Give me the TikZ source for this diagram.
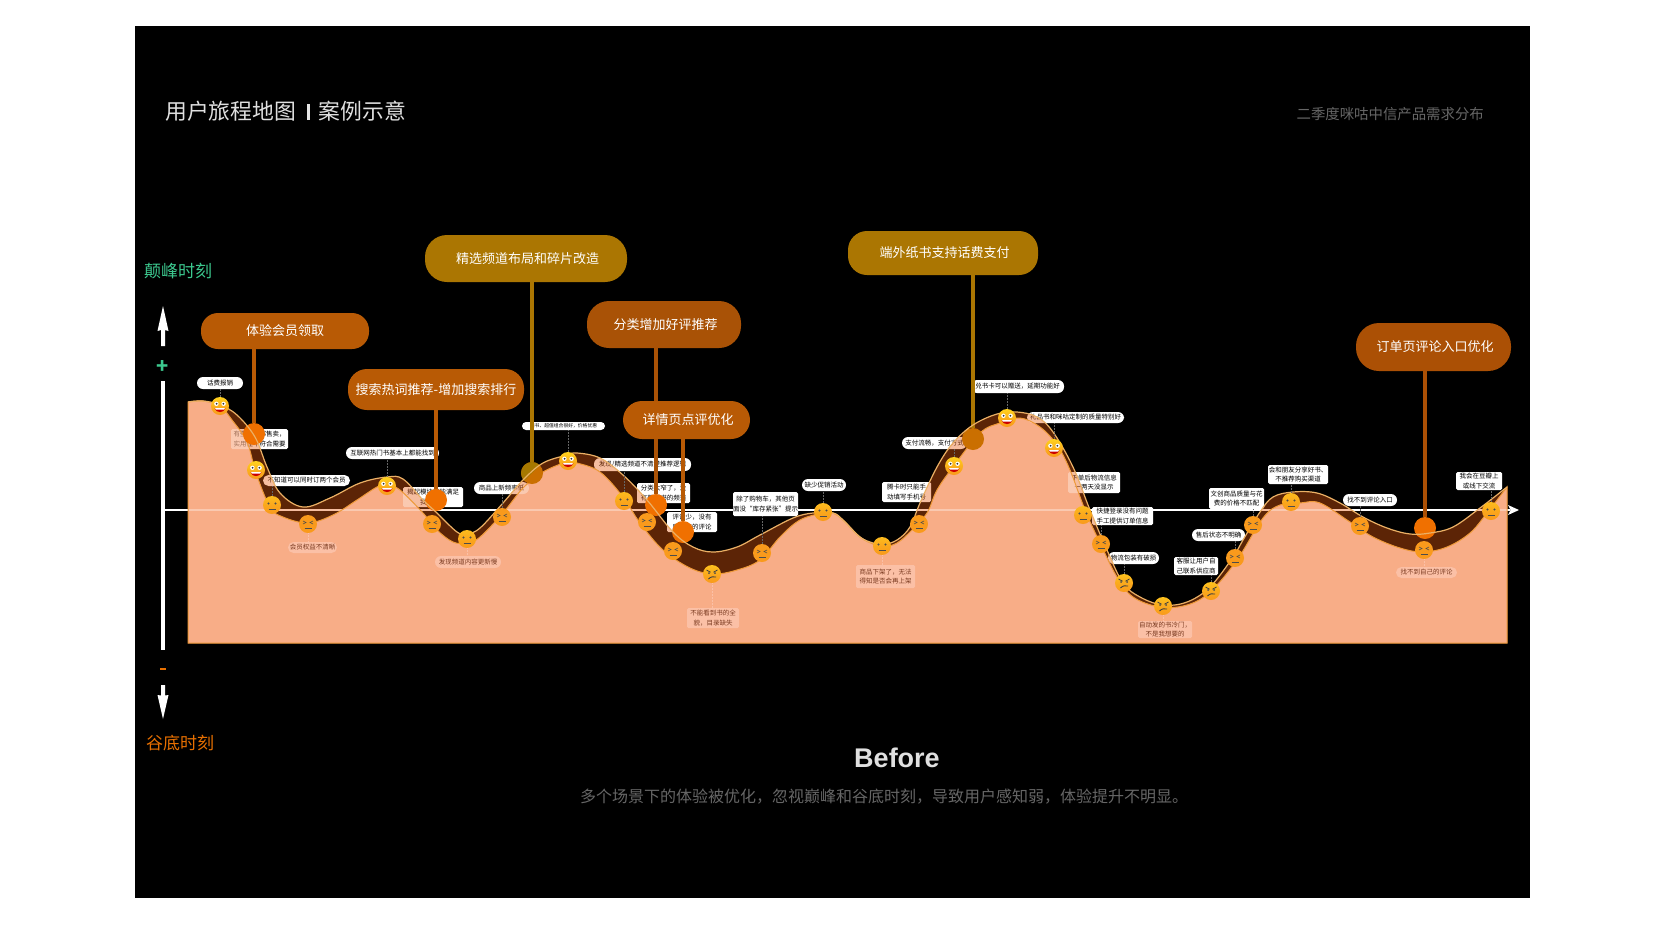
\documentclass[tikz,border=0pt]{standalone}
\usepackage{fontspec}
\setmainfont{Noto Sans CJK SC}
\newfontfamily\latinbold{Liberation Sans}[BoldFont={Liberation Sans Bold}]
\usetikzlibrary{calc}
\definecolor{peach}{HTML}{F8AD87}
\definecolor{brownov}{HTML}{E65A0F}
\definecolor{pillo}{HTML}{B85A05}
\definecolor{pillp}{HTML}{A95206}
\definecolor{pillq}{HTML}{AB5005}
\definecolor{pilly}{HTML}{AB7602}
\definecolor{dot}{HTML}{F07000}
\definecolor{doty}{HTML}{CA6F00}
\definecolor{dotolive}{HTML}{A67800}
\definecolor{facey}{HTML}{FFD21E}
\definecolor{faceo}{HTML}{F99A1C}
\definecolor{grn}{HTML}{3CC88E}
\definecolor{org}{HTML}{E87000}
\definecolor{upline}{HTML}{EBB065}
\definecolor{lowline}{HTML}{EE9A3A}
\definecolor{paletag}{HTML}{FBC0A6}
\definecolor{paletext}{HTML}{7A3A20}
\def\upperpts{(188,402)(203,401)(220,405)(237,415)(255,437)(267,467)(280,493)(303,507)(330,498)(360,483)(387,477)(403,479)(423,500)(437,513)(457,532)(467,534)(480,528)(503,503)(523,480)(543,463)(567,455)(577,453)(600,458)(623,475)(647,500)(673,532)(693,547)(713,552)(737,547)(760,535)(793,518)(813,513)(833,513)(843,520)(860,537)(873,543)(882,545)(897,540)(910,527)(920,503)(937,467)(953,443)(973,425)(997,414)(1017,412)(1037,417)(1053,432)(1073,467)(1090,510)(1107,550)(1123,583)(1140,597)(1163,605)(1187,602)(1210,587)(1233,557)(1243,540)(1260,512)(1273,497)(1293,492)(1317,493)(1340,503)(1363,517)(1387,528)(1410,534)(1430,533)(1453,527)(1480,508)(1507,487)}
\def\lowerpts{(188,402)(203,401)(220,406)(232,420)(247,442)(256,473)(270,507)(283,517)(308,523)(333,515)(357,500)(377,487)(387,485)(400,490)(423,513)(437,530)(453,542)(467,543)(480,537)(503,513)(523,488)(543,472)(567,462)(577,463)(600,472)(623,497)(640,523)(663,550)(690,568)(713,574)(737,570)(760,560)(780,537)(800,520)(823,513)(833,513)(843,520)(860,537)(873,544)(882,547)(897,543)(912,530)(927,513)(937,490)(953,467)(980,433)(1000,423)(1020,418)(1040,427)(1057,445)(1070,470)(1085,510)(1100,543)(1117,577)(1133,597)(1160,607)(1187,605)(1210,592)(1237,560)(1263,518)(1280,505)(1300,503)(1320,503)(1350,522)(1373,537)(1400,548)(1423,552)(1447,547)(1470,533)(1487,513)(1507,487)}
\tikzset{
  pillbox/.style={rounded corners=#1,inner sep=0pt,text=white,font=\fontsize{13}{15}\selectfont,anchor=center},
  tag/.style={fill=white,text=black,inner sep=0pt,font=\fontsize{6.5}{9.5}\selectfont,align=center,anchor=center},
  paletagbox/.style={tag,fill=paletag,text=paletext},
  lead/.style={densely dotted,line width=.5pt,draw=white!40!black},
  leadpale/.style={densely dotted,line width=.5pt,draw=paletag},
  dotc/.style={circle,inner sep=0pt,minimum size=22pt},
  conn/.style={line width=3.1pt},
  faceb/.style={circle,inner sep=0pt,minimum size=18pt},
  head/.style={fill=white,draw=none}
}
\newcommand\tagbox[7]{\node[tag,rounded corners=#6,minimum width=#4pt-#2pt,minimum height=#5pt-#3pt] (#1) at ({(#2+#4)/2},{(#3+#5)/2}) {#7};}
\newcommand\paletagb[7]{\node[paletagbox,rounded corners=#6,minimum width=#4pt-#2pt,minimum height=#5pt-#3pt] (#1) at ({(#2+#4)/2},{(#3+#5)/2}) {#7};}
\newcommand\ptxt[1]{\raisebox{-1pt}{\hspace*{3pt}#1}}
% faces
\newcommand\facebase[4]{%
  \node[faceb,top color=#4,bottom color=faceo,middle color=faceo!60!#4] (#1) at (#2,#3) {};}
\newcommand\eyesround[2]{%
  \fill[white] (#1-3.6,#2-2.2) circle (2.2) (#1+3.6,#2-2.2) circle (2.2);
  \fill[black!80] (#1-3.4,#2-2.2) circle (1) (#1+3.4,#2-2.2) circle (1);}
\newcommand\mouthopen[2]{%
  \fill[red!80!black] (#1-5.5,#2+2) .. controls (#1-4,#2+7.5) and (#1+4,#2+7.5) .. (#1+5.5,#2+2) -- cycle;
  \fill[white] (#1-5,#2+2) -- (#1+5,#2+2) -- (#1+4,#2+3.6) -- (#1-4,#2+3.6) -- cycle;}
\newcommand\fhappy[3]{\facebase{#1}{#2}{#3}{facey}\eyesround{#2}{#3}\mouthopen{#2}{#3}}
\newcommand\fneutral[3]{\facebase{#1}{#2}{#3}{facey!60!faceo}%
  \fill[black!70] (#2-3.5,#3-1.5) circle (1.1) (#2+3.5,#3-1.5) circle (1.1);
  \draw[black!70,line width=.8pt] (#2-3.5,#3+4) -- (#2+3.5,#3+4);}
\newcommand\fsquint[3]{\facebase{#1}{#2}{#3}{faceo}%
  \draw[black!70,line width=.6pt] (#2-5,#3-3) -- (#2-2,#3-1.5) -- (#2-5,#3) (#2+5,#3-3) -- (#2+2,#3-1.5) -- (#2+5,#3);
  \draw[black!70,line width=.8pt] (#2-3.5,#3+4) -- (#2+3.5,#3+4);}
\newcommand\fangry[3]{\facebase{#1}{#2}{#3}{facey!70!faceo}%
  \draw[black!75,line width=.8pt] (#2-5.5,#3-4) -- (#2-1.5,#3-1.8) (#2+5.5,#3-4) -- (#2+1.5,#3-1.8);
  \fill[black!70] (#2-3,#3-1) circle (1) (#2+3,#3-1) circle (1);
  \draw[black!75,line width=.9pt] (#2-3.5,#3+5) .. controls (#2-1,#3+2.5) and (#2+1,#3+2.5) .. (#2+4,#3+3);}
\begin{document}
\begin{tikzpicture}[x=1pt,y=-1pt]
\useasboundingbox (0,0) rectangle (1668,946);
\fill[white] (0,0) rectangle (1668,946);
\fill[black] (135,26) rectangle (1530,897.5);
\edef\cmd{\noexpand\path[save path=\noexpand\lowerP] (188,643) -- plot[smooth,tension=.6] coordinates {\lowerpts} -- (1507,643) -- cycle;}\cmd
\edef\cmd{\noexpand\path[save path=\noexpand\bandP] plot[smooth,tension=.6] coordinates {\upperpts} -- (1507,643) -- (188,643) -- cycle (188,643) -- plot[smooth,tension=.6] coordinates {\lowerpts} -- (1507,643) -- cycle;}\cmd
\edef\cmd{\noexpand\path[save path=\noexpand\upperL] plot[smooth,tension=.6] coordinates {\upperpts};}\cmd
% base area
\fill[peach,use path=\lowerP];
% titles
\node[text=white!88!black,font=\fontsize{21.8}{24}\selectfont,anchor=west,inner sep=0pt] (t1) at (165,111) {用户旅程地图};
\fill[white!90!black] (306.5,104) rectangle (309.5,120);
\node[text=white!88!black,font=\fontsize{21.8}{24}\selectfont,anchor=west,inner sep=0pt] (t2) at (318.5,111) {案例示意};
\node[text=black!60!white,font=\fontsize{14.4}{18}\selectfont,anchor=east,inner sep=0pt] (t3) at (1484,114) {二季度咪咕中信产品需求分布};
\node[text=grn,font=\fontsize{17}{20}\selectfont,anchor=west,inner sep=0pt] (t4) at (144,271) {颠峰时刻};
\node[text=org,font=\fontsize{17}{20}\selectfont,anchor=west,inner sep=0pt] (t5) at (146,743) {谷底时刻};
\node[text=white!88!black,font=\latinbold\bfseries\fontsize{27}{30}\selectfont,inner sep=0pt] (t6) at (897,758) {Before};
\node[text=black!60!white,font=\fontsize{16}{18}\selectfont,inner sep=0pt] (t7) at (884,797) {多个场景下的体验被优化，忽视巅峰和谷底时刻，导致用户感知弱，体验提升不明显。};
% vertical axis
\node[text=grn,font=\bfseries\fontsize{20}{20}\selectfont,inner sep=0pt] (plus) at (163,367) {+};
\fill[org] (160,667.5) rectangle (166,670);
\fill[head] (163,306) -- (168.5,331) -- (165,330) -- (165,346) -- (161,346) -- (161,330) -- (157.5,331) -- cycle;
\fill[white] (161,381) rectangle (165,650);
\fill[head] (163,719) -- (168.5,695) -- (165,695.5) -- (165,685) -- (161,685) -- (161,695.5) -- (157.5,695) -- cycle;
% horizontal axis
\coordinate (hs) at (165,510);
\coordinate (he) at (1510,510);
\draw[draw=white,line width=2.6pt] (hs) -- (he);
\fill[head] (1519,510) -- (1508,505) -- (1510.5,510) -- (1508,515) -- cycle;
% labels straddling the curve, tinted by the overlays below
\tagbox{l1}{197}{377}{243}{389}{6}{话费报销}
\tagbox{l2}{231}{429}{288}{449}{1.5}{有些书不都售卖，\\实用性不符合需要}
\tagbox{l3}{263}{475}{350}{486}{5.5}{不知道可以同时订两个会员}
\tagbox{l5}{346}{447}{439}{459}{6}{互联网热门书基本上都能找到}
\tagbox{l6}{403}{487}{463}{507}{1.5}{揭起模块不能满足\\我的需求}
\tagbox{l8}{474}{482}{529}{494}{6}{商品上新频率低}
\node[tag,rounded corners=4,minimum width=83pt,minimum height=8pt,font=\fontsize{4.8}{6}\selectfont] (l9) at (563.5,426) {图书、超值组合很好，价格优惠};
\tagbox{l10}{594}{458}{691}{471}{6}{发现/精选频道不清楚推荐逻辑}
\tagbox{l11}{637}{483}{690}{503}{1.5}{分类太窄了，没\\有想要书的频道}
\tagbox{l12}{667}{512}{717}{532}{1.5}{评论少，没有\\质量高的评论}
\tagbox{l14}{737}{492}{794}{516}{1.5}{除了购物车，其他页\\面没“库存紧张”提示}
\tagbox{l15}{802}{479}{846}{491}{6}{缺少促销活动}
\tagbox{l17}{882}{482}{931}{502}{1.5}{腾卡时只能手\\动填写手机号}
\tagbox{l18}{902}{437}{967}{449}{6}{支付流畅，支付方式}
\tagbox{l19}{971}{380}{1064}{393}{6}{兑书卡可以赠送，延期功能好}
\tagbox{l20}{1027}{412}{1124}{423}{6}{礼品书和咪咕定制的质量特别好}
\tagbox{l21}{1068}{472}{1120}{493}{1.5}{下单后物流信息\\一两天没显示}
\tagbox{l22}{1092}{507}{1153}{525}{1.5}{快捷登录没有问题\\手工提供订单信息}
\tagbox{l23}{1108}{552}{1159}{564}{6}{物流包装有破损}
\tagbox{l25}{1174}{557}{1218}{575}{1.5}{客服让用户自\\己联系供应商}
\tagbox{l26}{1192}{529}{1245}{541}{6}{售后状态不明确}
\tagbox{l27}{1209}{488}{1264}{509}{1.5}{文创商品质量与花\\费的价格不匹配}
\tagbox{l28}{1268}{465}{1328}{484}{1.5}{会和朋友分享好书、\\不推荐购买渠道}
\tagbox{l29}{1343}{494}{1397}{506}{6}{找不到评论入口}
\tagbox{l31}{1456}{472}{1502}{490}{1.5}{我会在豆瓣上\\或线下交流}
% overlays tint what lies under the curve
\fill[peach,opacity=.65,use path=\lowerP];
\fill[brownov,opacity=.4,even odd rule,use path=\bandP];
\draw[draw=lowline,line width=1pt,use path=\lowerP];
% labels wholly on the area
\paletagb{l4}{288}{542}{337}{553}{5.5}{会员权益不清晰}
\paletagb{l7}{435}{556}{501}{568}{6}{发现频道内容更新慢}
\paletagb{l13}{687}{608}{739}{628}{1.5}{不能看到书的全\\貌，目录缺失}
\paletagb{l16}{856}{565}{915}{588}{1.5}{商品下架了，无法\\得知是否会再上架}
\paletagb{l24}{1138}{621}{1192}{638}{1.5}{自动发的书冷门，\\不是我想要的}
\paletagb{l30}{1396}{567}{1457}{578}{5.5}{找不到自己的评论}
% pills
\node[pillbox=17,fill=pillo,minimum width=168pt,minimum height=36pt] (p1) at (285,331) {\raisebox{-1pt}{体验会员领取}};
\node[pillbox=22,fill=pilly,minimum width=202pt,minimum height=47pt] (p2) at (526,258.5) {\ptxt{精选频道布局和碎片改造}};
\node[pillbox=19,fill=pillo,minimum width=176pt,minimum height=41pt] (p3) at (436,389.5) {\raisebox{-1pt}{搜索热词推荐-增加搜索排行}};
\node[pillbox=22,fill=pillp,minimum width=154pt,minimum height=47pt] (p4) at (664,324.5) {\ptxt{分类增加好评推荐}};
\node[pillbox=19,fill=pilly,minimum width=190pt,minimum height=44pt] (p6) at (943,253) {\ptxt{端外纸书支持话费支付}};
\node[pillbox=23,fill=pillq,minimum width=155pt,minimum height=48pt] (p7) at (1433.5,347) {\ptxt{订单页评论入口优化}};
% dots
\node[dotc,fill=dot] (d1) at (254,434) {};
\node[dotc,fill=dot] (d2) at (436,500) {};
\node[dotc,fill=doty] (d3) at (532,473) {};
\begin{scope}
  \clip (520,460) -- (545,460) -- (520,485) -- cycle;
  \fill[dotolive] (d3.center) circle (11);
\end{scope}
\node[dotc,fill=dot] (d4) at (656,505) {};
\node[dotc,fill=dot] (d5) at (683,532) {};
\node[dotc,fill=doty] (d6) at (973,439) {};
\node[dotc,fill=dot] (d7) at (1425,528) {};
\draw[conn,draw=pillo] (d1.center |- p1.south) -- (d1);
\draw[conn,draw=pilly] (d3.center |- p2.south) -- (d3);
\draw[conn,draw=pillo] (d2.center |- p3.south) -- (d2);
\draw[conn,draw=pillp] (d4.center |- p4.south) -- (d4);
\draw[conn,draw=pilly] (d6.center |- p6.south) -- (d6);
\draw[conn,draw=pillq] (d7.center |- p7.south) -- (d7);
\node[pillbox=19,fill=pillo,minimum width=127pt,minimum height=38pt] (p5) at (686.5,420) {\ptxt{详情页点评优化}};
\draw[conn,draw=pillo] (d5.center |- p5.south) -- (d5);
% upper curve
\draw[draw=upline,line width=1.2pt,use path=\upperL];
% faces
\fhappy{f1}{220}{406}
\fhappy{f2}{256}{470}
\fneutral{f3}{272}{505}
\fsquint{f4}{308}{524}
\fhappy{f5}{387}{486}
\fsquint{f6}{432}{524}
\fneutral{f7}{467}{539}
\fsquint{f8}{502}{517}
\fhappy{f9}{568}{461}
\fneutral{f10}{624}{501}
\fsquint{f11}{647}{522}
\fsquint{f12}{673}{551}
\fangry{f13}{712}{574}
\fsquint{f14}{762}{553}
\fneutral{f15}{823}{512}
\fneutral{f16}{882}{546}
\fsquint{f17}{919}{524}
\fhappy{f18}{954}{466}
\fhappy{f19}{1007}{418}
\fhappy{f20}{1054}{448}
\fneutral{f21}{1083}{515}
\fsquint{f22}{1101}{544}
\fangry{f23}{1124}{583}
\fangry{f24}{1163}{606}
\fangry{f25}{1211}{591}
\fsquint{f26}{1235}{558}
\fsquint{f27}{1253}{525}
\fneutral{f28}{1291}{502}
\fsquint{f29}{1360}{526}
\fsquint{f30}{1424}{550}
\fneutral{f31}{1491}{511}
% dotted leads from labels to faces
\foreach \f/\l in {f1/l1,f3/l3,f5/l5,f8/l8,f9/l9,f10/l10,f14/l14,f15/l15,f18/l18,f19/l19,f20/l20,f22/l22,f23/l23,f25/l25,f26/l26,f27/l27,f28/l28,f29/l29,f31/l31}
  \draw[lead] (\f.north) -- (\f.north |- \l.south);
\foreach \f/\l in {f4/l4,f7/l7,f13/l13,f16/l16,f24/l24,f30/l30}
  \draw[leadpale] (\f.south) -- (\f.south |- \l.north);
\end{tikzpicture}
\end{document}
